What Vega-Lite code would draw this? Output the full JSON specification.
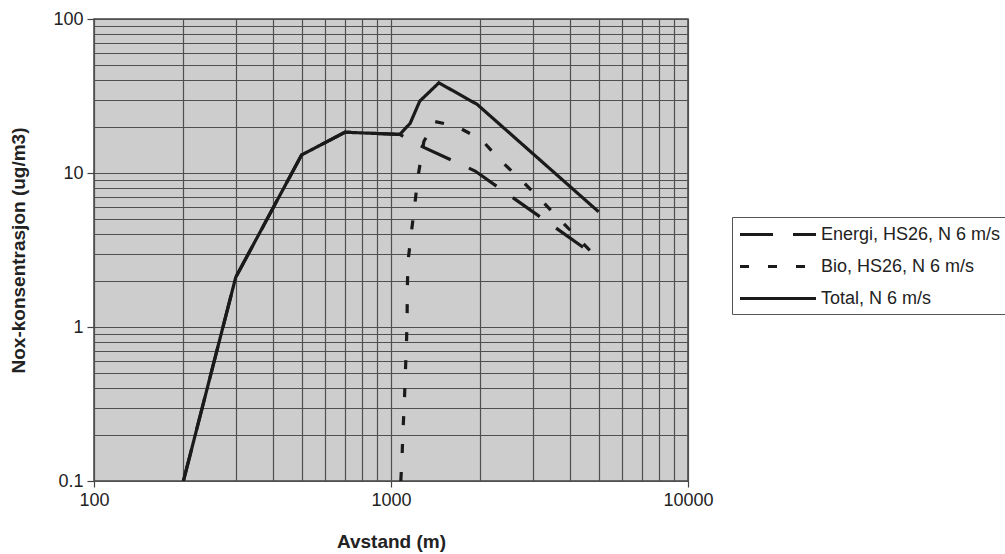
{
  "$schema": "https://vega.github.io/schema/vega-lite/v6.json",
  "autosize": "none",
  "width": 594,
  "height": 462,
  "padding": {"left": 94, "top": 19, "right": 317, "bottom": 73},
  "background": "white",
  "config": {
    "font": "Liberation Sans",
    "view": {"fill": "#cdcdcd", "stroke": "#444444", "strokeWidth": 1.5},
    "axis": {
      "labelFont": "Liberation Sans",
      "labelFontSize": 18,
      "labelColor": "#222222",
      "titleFont": "Liberation Sans",
      "titleFontSize": 19,
      "titleFontWeight": "bold",
      "titleColor": "#222222",
      "gridColor": "#4f4f4f",
      "gridWidth": 1.2,
      "gridOpacity": 1,
      "domain": false,
      "tickColor": "#444444",
      "tickWidth": 1.2
    }
  },
  "data": {
    "values": [
      {"avstand": 200, "kons": 0.1, "serie": "Total, N 6 m/s"},
      {"avstand": 300, "kons": 2.1, "serie": "Total, N 6 m/s"},
      {"avstand": 500, "kons": 13.1, "serie": "Total, N 6 m/s"},
      {"avstand": 700, "kons": 18.4, "serie": "Total, N 6 m/s"},
      {"avstand": 1070, "kons": 17.8, "serie": "Total, N 6 m/s"},
      {"avstand": 1160, "kons": 21, "serie": "Total, N 6 m/s"},
      {"avstand": 1250, "kons": 29.3, "serie": "Total, N 6 m/s"},
      {"avstand": 1450, "kons": 38.5, "serie": "Total, N 6 m/s"},
      {"avstand": 1950, "kons": 27.9, "serie": "Total, N 6 m/s"},
      {"avstand": 5000, "kons": 5.6, "serie": "Total, N 6 m/s"},
      {"avstand": 200, "kons": 0.1, "serie": "Energi, HS26, N 6 m/s"},
      {"avstand": 300, "kons": 2.1, "serie": "Energi, HS26, N 6 m/s"},
      {"avstand": 500, "kons": 13.1, "serie": "Energi, HS26, N 6 m/s"},
      {"avstand": 700, "kons": 18.4, "serie": "Energi, HS26, N 6 m/s"},
      {"avstand": 1070, "kons": 17.8, "serie": "Energi, HS26, N 6 m/s"},
      {"avstand": 1295, "kons": 14.6, "serie": "Energi, HS26, N 6 m/s"},
      {"avstand": 1920, "kons": 10.3, "serie": "Energi, HS26, N 6 m/s"},
      {"avstand": 5000, "kons": 2.8, "serie": "Energi, HS26, N 6 m/s"},
      {"avstand": 1079, "kons": 0.1, "serie": "Bio, HS26, N 6 m/s"},
      {"avstand": 1089, "kons": 0.14, "serie": "Bio, HS26, N 6 m/s"},
      {"avstand": 1097, "kons": 0.21, "serie": "Bio, HS26, N 6 m/s"},
      {"avstand": 1109, "kons": 0.32, "serie": "Bio, HS26, N 6 m/s"},
      {"avstand": 1117, "kons": 0.49, "serie": "Bio, HS26, N 6 m/s"},
      {"avstand": 1127, "kons": 0.75, "serie": "Bio, HS26, N 6 m/s"},
      {"avstand": 1133, "kons": 1.15, "serie": "Bio, HS26, N 6 m/s"},
      {"avstand": 1135, "kons": 1.77, "serie": "Bio, HS26, N 6 m/s"},
      {"avstand": 1141, "kons": 2.67, "serie": "Bio, HS26, N 6 m/s"},
      {"avstand": 1171, "kons": 4.1, "serie": "Bio, HS26, N 6 m/s"},
      {"avstand": 1202, "kons": 6.2, "serie": "Bio, HS26, N 6 m/s"},
      {"avstand": 1233, "kons": 9.5, "serie": "Bio, HS26, N 6 m/s"},
      {"avstand": 1290, "kons": 16, "serie": "Bio, HS26, N 6 m/s"},
      {"avstand": 1403, "kons": 21.6, "serie": "Bio, HS26, N 6 m/s"},
      {"avstand": 1660, "kons": 20.1, "serie": "Bio, HS26, N 6 m/s"},
      {"avstand": 2014, "kons": 16.5, "serie": "Bio, HS26, N 6 m/s"},
      {"avstand": 2322, "kons": 12.2, "serie": "Bio, HS26, N 6 m/s"},
      {"avstand": 2728, "kons": 9.1, "serie": "Bio, HS26, N 6 m/s"},
      {"avstand": 3206, "kons": 6.65, "serie": "Bio, HS26, N 6 m/s"},
      {"avstand": 3723, "kons": 4.93, "serie": "Bio, HS26, N 6 m/s"},
      {"avstand": 5000, "kons": 2.75, "serie": "Bio, HS26, N 6 m/s"}
    ]
  },
  "encoding": {
    "x": {
      "field": "avstand",
      "type": "quantitative",
      "title": "Avstand (m)",
      "scale": {"type": "log", "domain": [100, 10000], "nice": false},
      "axis": {
        "values": [100, 200, 300, 400, 500, 600, 700, 800, 900, 1000, 2000, 3000, 4000, 5000, 6000, 7000, 8000, 9000, 10000],
        "labelExpr": "indexof([100, 1000, 10000], datum.value) >= 0 ? format(datum.value, 'd') : ''",
        "tickSize": 6,
        "tickOpacity": {"condition": {"test": "indexof([100, 1000, 10000], datum.value) >= 0", "value": 1}, "value": 0},
        "labelPadding": 4,
        "labelFlush": false,
        "labelOverlap": false,
        "titlePadding": 23
      }
    },
    "y": {
      "field": "kons",
      "type": "quantitative",
      "title": "Nox-konsentrasjon (ug/m3)",
      "scale": {"type": "log", "domain": [0.1, 100], "nice": false},
      "axis": {
        "values": [0.1, 0.2, 0.3, 0.4, 0.5, 0.6, 0.7, 0.8, 0.9, 1, 2, 3, 4, 5, 6, 7, 8, 9, 10, 20, 30, 40, 50, 60, 70, 80, 90, 100],
        "labelExpr": "indexof([0.1, 1, 10, 100], datum.value) >= 0 ? format(datum.value, '~g') : ''",
        "tickSize": 7,
        "tickOpacity": {"condition": {"test": "indexof([0.1, 1, 10, 100], datum.value) >= 0", "value": 1}, "value": 0},
        "labelPadding": 4,
        "labelFlush": false,
        "labelOverlap": false,
        "titlePadding": 24
      }
    },
    "strokeDash": {
      "field": "serie",
      "type": "nominal",
      "title": null,
      "scale": {
        "domain": ["Energi, HS26, N 6 m/s", "Bio, HS26, N 6 m/s", "Total, N 6 m/s"],
        "range": [[33, 20], [9, 19], [1, 0]]
      },
      "legend": {
        "orient": "none",
        "legendX": 638,
        "legendY": 198,
        "symbolType": "M-1,0H7",
        "symbolSize": 361,
        "symbolStrokeWidth": 3.2,
        "symbolStrokeColor": "#1a1a1a",
        "labelFont": "Liberation Sans",
        "labelFontSize": 18,
        "labelColor": "#222222",
        "labelOffset": 60,
        "labelLimit": 400,
        "rowPadding": 11,
        "padding": 6,
        "strokeColor": "#555555",
        "fillColor": "white"
      }
    }
  },
  "layer": [
    {
      "transform": [{"filter": "datum.serie == 'Energi, HS26, N 6 m/s'"}],
      "mark": {"type": "line", "color": "#1a1a1a", "strokeWidth": 3.2, "clip": true, "strokeCap": "butt"}
    },
    {
      "transform": [{"filter": "datum.serie == 'Bio, HS26, N 6 m/s'"}],
      "mark": {"type": "line", "color": "#1a1a1a", "strokeWidth": 3.2, "clip": true, "strokeCap": "butt"}
    },
    {
      "transform": [{"filter": "datum.serie == 'Total, N 6 m/s'"}],
      "mark": {"type": "line", "color": "#1a1a1a", "strokeWidth": 3.2, "clip": true, "strokeCap": "butt"}
    }
  ]
}
